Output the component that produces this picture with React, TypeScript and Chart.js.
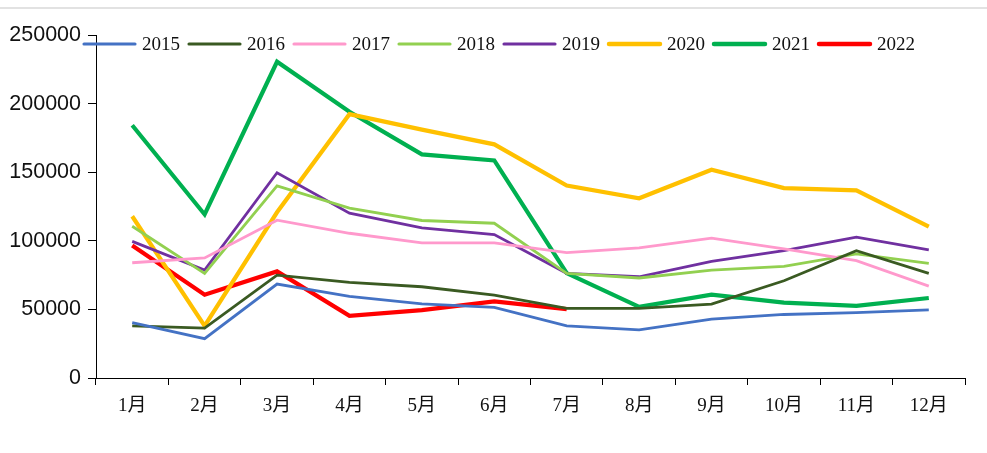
import React, { useEffect, useRef } from "react";
import { Chart, registerables } from "chart.js";

Chart.register(...registerables);

const months = ["1月", "2月", "3月", "4月", "5月", "6月", "7月", "8月", "9月", "10月", "11月", "12月"];
const seriesNames = ["2015", "2016", "2017", "2018", "2019", "2020", "2021", "2022"];
const s2015 = [40400, 28700, 68500, 59500, 54000, 51500, 38000, 35100, 42900, 46300, 47700, 49700];
const s2016 = [38000, 36300, 75000, 69700, 66500, 60400, 50700, 50700, 53900, 70900, 92800, 76300];
const s2017 = [84000, 87500, 115000, 105500, 98500, 98500, 91400, 94800, 102000, 94100, 85500, 67000];
const s2018 = [110600, 76300, 140000, 123800, 114800, 112800, 76300, 72900, 78700, 81400, 90400, 83600];
const s2019 = [99600, 78700, 149600, 120100, 109400, 104500, 76300, 73800, 85000, 92800, 102600, 93300];
const s2020 = [117900, 38000, 120800, 192300, 181000, 170300, 140300, 131000, 151800, 138400, 136700, 110400];
const s2021 = [184200, 119200, 230500, 194000, 163000, 158600, 76500, 51900, 60700, 55000, 52600, 58300];
const s2022 = [96500, 60700, 77700, 45300, 49500, 55800, 50200, null, null, null, null, null];
const yTicks = [0, 50000, 100000, 150000, 200000, 250000];

const allSeries = [s2015, s2016, s2017, s2018, s2019, s2020, s2021, s2022];
const colors = ["#4472C4", "#3A5A22", "#FF99CC", "#92D050", "#7030A0", "#FFC000", "#00B050", "#FF0000"];
const widths = [2.8, 2.8, 2.8, 2.8, 2.8, 4.2, 4.2, 4.2];

const legendPlugin = {
  id: "customLegend",
  afterDraw(chart: any) {
    const ctx = chart.ctx;
    ctx.save();
    const y = 44;
    let x = 84;
    chart.data.datasets.forEach((ds: any) => {
      ctx.strokeStyle = ds.borderColor;
      ctx.lineWidth = ds.borderWidth + 0.3;
      ctx.lineCap = "round";
      ctx.beginPath();
      ctx.moveTo(x, y);
      ctx.lineTo(x + 51, y);
      ctx.stroke();
      ctx.fillStyle = "#111";
      ctx.font = "19px 'Liberation Serif', serif";
      ctx.textBaseline = "middle";
      ctx.textAlign = "left";
      ctx.fillText(ds.label, x + 58, y + 1);
      x += 105;
    });
    ctx.restore();
  },
};

export default function App() {
  const ref = useRef<HTMLCanvasElement>(null);
  useEffect(() => {
    document.body.style.margin = "0";
    const chart = new Chart(ref.current as HTMLCanvasElement, {
      type: "line",
      data: {
        labels: months,
        datasets: seriesNames.map((name, i) => ({
          label: name,
          data: allSeries[i] as any,
          borderColor: colors[i],
          backgroundColor: colors[i],
          borderWidth: widths[i],
          pointRadius: 0,
          tension: 0,
          spanGaps: false,
        })),
      },
      options: {
        animation: false,
        responsive: false,
        maintainAspectRatio: false,
        layout: { padding: { left: 0, right: 22, top: 35, bottom: 0 } },
        plugins: { legend: { display: false }, tooltip: { enabled: false } },
        scales: {
          x: {
            offset: true,
            afterFit: (s: any) => { s.height = 75; },
            grid: { display: true, drawOnChartArea: false, drawTicks: true, tickLength: 7, color: "#000", offset: true },
            border: { display: true, color: "#000", width: 1 },
            ticks: { color: "#111", font: { family: "'Liberation Serif', 'Noto Sans CJK SC', serif", size: 19 }, padding: 10, maxRotation: 0 },
          },
          y: {
            min: 0,
            max: 250000,
            afterFit: (s: any) => { s.width = 96; },
            afterBuildTicks: (s: any) => { s.ticks = yTicks.map((v) => ({ value: v })); },
            grid: { display: true, drawOnChartArea: false, drawTicks: true, tickLength: 8, color: "#000" },
            border: { display: true, color: "#000", width: 1 },
            ticks: {
              color: "#111",
              font: { family: "'Liberation Sans', Arial, sans-serif", size: 21.5 },
              padding: 7,
              callback: (v: any) => String(v),
            },
          },
        },
      },
      plugins: [legendPlugin],
    });
    return () => chart.destroy();
  }, []);
  return (
    <div style={{ position: "relative", width: 987, height: 453, background: "#fff" }}>
      <div style={{ position: "absolute", left: 0, top: 7, width: 987, height: 2, background: "#e2e2e2" }} />
      <canvas ref={ref} width={987} height={453} style={{ position: "absolute", left: 0, top: 0 }} />
    </div>
  );
}
